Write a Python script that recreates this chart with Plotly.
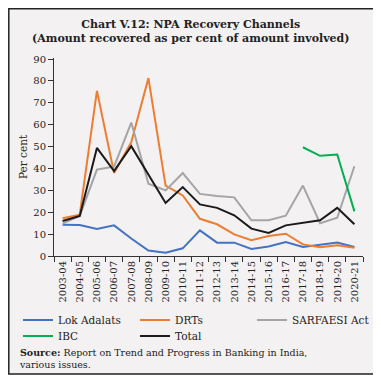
import plotly.graph_objects as go

years = ["2003-04", "2004-05", "2005-06", "2006-07", "2007-08", "2008-09", "2009-10",
         "2010-11", "2011-12", "2012-13", "2013-14", "2014-15", "2015-16", "2016-17",
         "2017-18", "2018-19", "2019-20", "2020-21"]
lok_adalats = [14.3, 14.2, 12.3, 14.0, 8.0, 2.5, 1.5, 3.5, 11.7, 6.1, 6.1, 3.2, 4.3, 6.4, 4.1, 5.0, 6.2, 4.1]
drts = [17.3, 18.9, 75.5, 37.9, 52.0, 81.3, 32.2, 27.7, 17.0, 14.5, 9.9, 7.2, 9.1, 10.2, 5.3, 4.0, 4.9, 3.8]
sarfaesi = [14.8, 18.3, 39.5, 40.9, 61.0, 33.0, 30.0, 37.9, 28.4, 27.4, 26.8, 16.3, 16.3, 18.4, 32.2, 15.0, 17.5, 41.0]
ibc = [None] * 14 + [49.7, 45.8, 46.4, 20.4]
total = [16.0, 18.3, 49.4, 38.8, 50.2, 37.0, 24.2, 31.5, 23.6, 22.0, 18.6, 12.5, 10.5, 14.0, 15.0, 16.3, 22.0, 14.5]

series = [
    ("Lok Adalats", lok_adalats, "#4472C4", "legend"),
    ("DRTs", drts, "#ED7D31", "legend"),
    ("SARFAESI Act", sarfaesi, "#A5A5A5", "legend"),
    ("IBC", ibc, "#00B050", "legend2"),
    ("Total", total, "#1a1a1a", "legend2"),
]

SERIF = "DejaVu Serif"
BG = "#f4f1f2"

fig = go.Figure()
for name, vals, col, lg in series:
    fig.add_trace(go.Scatter(x=years, y=vals, name=name, mode="lines", legend=lg,
                             line=dict(color=col, width=2), connectgaps=False))

# page body has an 8px margin: figure pixel = screen pixel - 8
OFF = 8
W, H = 381 - OFF, 382 - OFF
# plot area on screen: x 54..363, y 58..256
L, R, T, B = 54 - OFF, W - (363 - OFF), 58 - OFF, H - (256 - OFF)
pw, ph = W - L - R, H - T - B

def px(x):
    return (x - OFF - L) / pw

def py(y):
    return (H - B - (y - OFF)) / ph

legend_common = dict(orientation="h", xanchor="left", yanchor="middle",
                     entrywidth=72, entrywidthmode="pixels", tracegroupgap=0,
                     font=dict(family=SERIF, size=10.5, color="#222"),
                     bgcolor="rgba(0,0,0,0)", borderwidth=0)

fig.update_layout(
    width=W, height=H,
    margin=dict(l=L, r=R, t=T, b=B, autoexpand=False),
    paper_bgcolor="white",
    plot_bgcolor="rgba(0,0,0,0)",
    font=dict(family=SERIF, size=10, color="#222"),
    showlegend=True,
    legend=dict(x=px(18), y=py(320), **legend_common),
    legend2=dict(x=px(18), y=py(336), **legend_common),
    xaxis=dict(type="category", range=[-0.5, 17.5], tickson="boundaries",
               ticks="outside", ticklen=5, tickcolor="#333", showline=True,
               linecolor="#333", linewidth=1, showgrid=False, tickangle=-90,
               tickfont=dict(family=SERIF, size=10, color="#222")),
    yaxis=dict(range=[0, 90.5], tickvals=list(range(0, 91, 10)), ticks="outside",
               ticklen=5, tickcolor="#333", showline=True, linecolor="#333",
               linewidth=1, showgrid=False, zeroline=False,
               tickfont=dict(family=SERIF, size=10, color="#222"),
               title=dict(text="Per cent", font=dict(family=SERIF, size=10.5, color="#222"),
                          standoff=3)),
    shapes=[dict(type="rect", xref="paper", yref="paper",
                 x0=px(8.8), x1=px(375), y0=py(374), y1=py(8.8),
                 line=dict(color="#222", width=1.5), fillcolor=BG, layer="below")],
    annotations=[
        dict(text="<b>Chart V.12: NPA Recovery Channels<br>(Amount recovered as per cent of amount involved)</b>",
             xref="paper", yref="paper", x=px(191), y=py(16), xanchor="center", yanchor="top",
             showarrow=False, font=dict(family=SERIF, size=11, color="#222"), align="center"),
        dict(text="<b>Source:</b> Report on Trend and Progress in Banking in India,<br>various issues.",
             xref="paper", yref="paper", x=px(17), y=py(345), xanchor="left", yanchor="top",
             showarrow=False, font=dict(family=SERIF, size=9.5, color="#222"), align="left"),
    ],
)

fig.write_html("out.html")
